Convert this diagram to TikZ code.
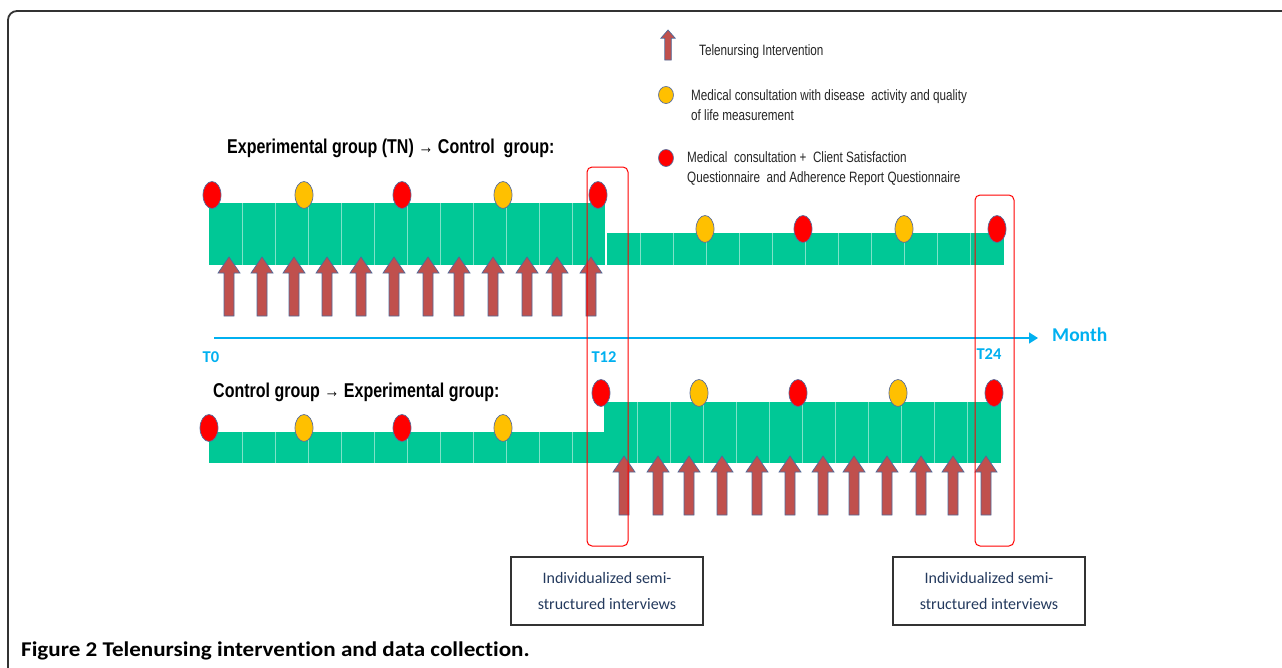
\documentclass[tikz,border=0pt]{standalone}
\usepackage{fontspec}
\setmainfont{Liberation Sans}
\newfontfamily\legfont[FakeStretch=0.78]{Liberation Sans}
\newfontfamily\titfont[FakeStretch=0.8]{Liberation Sans}
\newfontfamily\calfont{Carlito}
\newfontfamily\capfont[FakeStretch=1.1,Ligatures=NoCommon]{Carlito}
\usetikzlibrary{arrows.meta}
\definecolor{bargreen}{HTML}{00C896}
\definecolor{cellline}{HTML}{7FE2C8}
\definecolor{dotred}{HTML}{FF0000}
\definecolor{dotyellow}{HTML}{FFC000}
\definecolor{dotedge}{HTML}{5A6E9C}
\definecolor{arrowfill}{HTML}{C0504D}
\definecolor{arrowedge}{HTML}{4F6A9A}
\definecolor{axisblue}{HTML}{00B0F0}
\definecolor{navytext}{HTML}{243A5E}
\definecolor{framegray}{HTML}{333333}
\tikzset{
  dotline/.style={draw=dotedge,line width=0.7pt},
  arrowstyle/.style={fill=arrowfill,draw=arrowedge,line width=0.7pt,line join=miter},
  pics/rdot/.style={code={\draw[dotline,fill=dotred] (0,0) ellipse[x radius=9pt,y radius=13.5pt];}},
  pics/ydot/.style={code={\draw[dotline,fill=dotyellow] (0,0) ellipse[x radius=9pt,y radius=13.5pt];}},
  pics/tnarrow/.style={code={\draw[arrowstyle] (0,0) -- (11,16) -- (5,16) -- (5,59) -- (-5,59) -- (-5,16) -- (-11,16) -- cycle;}},
  bar/.style={fill=bargreen},
  sep/.style={draw=cellline,line width=0.8pt},
  redbox/.style={draw=dotred,line width=1pt,rounded corners=5pt},
  intbox/.style={draw=framegray,line width=1.3pt,minimum width=192pt,minimum height=68pt,align=center,inner sep=0pt,
     font=\calfont\fontsize{16}{26}\selectfont,text=navytext},
  legtext/.style={font=\legfont\fontsize{15}{20}\selectfont,align=left,anchor=west,inner sep=0pt,text=black!85},
  grouptitle/.style={font=\titfont\bfseries\fontsize{20}{24}\selectfont,anchor=west,inner sep=0pt},
  tlabel/.style={font=\calfont\bfseries\fontsize{16.5}{20}\selectfont,text=axisblue,inner sep=0pt},
  frame/.style={draw=framegray,line width=1.8pt,rounded corners=9pt}
}
\newcommand\smallarrow{{\fontsize{19}{19}\selectfont →}}
\begin{document}
\begin{tikzpicture}[x=1pt,y=-1pt]
\clip (0,0) rectangle (1282,667);
\fill[white] (0,0) rectangle (1282,667);
% outer frame
\draw[frame] (8,690) |- (1300,11);

% legend
\pic[xscale=0.65,yscale=0.51] at (668,30) {tnarrow};
\node[legtext] (legA) at (699,52) {Telenursing Intervention};
\pic[xscale=0.83,yscale=0.63] at (666,95) {ydot};
\node[legtext] (legB) at (691,105.5) {Medical consultation with disease\ \ activity and quality\\of life measurement};
\pic[xscale=0.83,yscale=0.63] at (666,158) {rdot};
\node[legtext] (legC) at (687,168.5) {Medical\ \ consultation +\ \ Client Satisfaction\\Questionnaire\ \ and Adherence Report Questionnaire};

% group titles
\node[grouptitle] (titleA) at (227,148) {Experimental group (TN) \smallarrow{} Control\ \ group:};
\node[grouptitle] (titleB) at (213,392) {Control group \smallarrow{} Experimental group:};

% top row bars
\fill[bar] (209,203) rectangle (605,265);
\foreach \k in {1,...,11} \draw[sep] ({209+33*\k},203) -- ({209+33*\k},265);
\fill[bar] (607,233) rectangle (1004,265);
\foreach \k in {1,...,11} \draw[sep] ({607+33*\k},233) -- ({607+33*\k},265);

% bottom row bars
\fill[bar] (209,432) rectangle (604,463);
\foreach \k in {1,...,11} \draw[sep] ({209+33*\k},432) -- ({209+33*\k},463);
\fill[bar] (604,402) rectangle (1001,463);
\foreach \k in {1,...,11} \draw[sep] ({604+33*\k},402) -- ({604+33*\k},463);

% top dots
\pic at (212,195) {rdot};
\pic at (304,195) {ydot};
\pic at (402,195) {rdot};
\pic at (503,195) {ydot};
\pic at (598,195) {rdot};
\pic at (705,229) {ydot};
\pic at (803,229) {rdot};
\pic at (904,229) {ydot};
\pic at (997,229) {rdot};

% bottom dots
\pic at (209,428) {rdot};
\pic at (304,428) {ydot};
\pic at (402,428) {rdot};
\pic at (503,428) {ydot};
\pic at (601,393) {rdot};
\pic at (699,393) {ydot};
\pic at (798,393) {rdot};
\pic at (898,393) {ydot};
\pic at (994,393) {rdot};

% arrows
\foreach \ax in {229,262,294,327,361,394,428,459,493,527,557,591}
  \pic at (\ax,257) {tnarrow};
\foreach \ax in {624,658,689,722,757,790,823,854,887,921,953,986}
  \pic at (\ax,456) {tnarrow};

% time axis
\coordinate (axstart) at (214,338);
\coordinate (axend) at (1038,338);
\draw[axisblue,line width=1.4pt,-{Triangle[width=11pt,length=9pt]}] (axstart) -- (axend);
\node[font=\calfont\bfseries\fontsize{19.5}{22}\selectfont,text=axisblue,anchor=west,inner sep=0pt] (month) at (1052,335) {Month};
\node[tlabel] (t0) at (211,357) {T0};
\node[tlabel] (t12) at (604,357) {T12};
\node[tlabel] (t24) at (989,354) {T24};

% red highlight boxes
\draw[redbox] (587,167) rectangle (628,546);
\draw[redbox] (975,195) rectangle (1014,546);

% interview boxes
\node[intbox] (intA) at (607,591) {Individualized semi-\\structured interviews};
\node[intbox] (intB) at (989,591) {Individualized semi-\\structured interviews};

% caption
\node[font=\capfont\bfseries\fontsize{21}{24}\selectfont,anchor=base west,inner sep=0pt] (caption) at (21,656) {Figure 2 Telenursing intervention and data collection.};
\end{tikzpicture}
\end{document}
